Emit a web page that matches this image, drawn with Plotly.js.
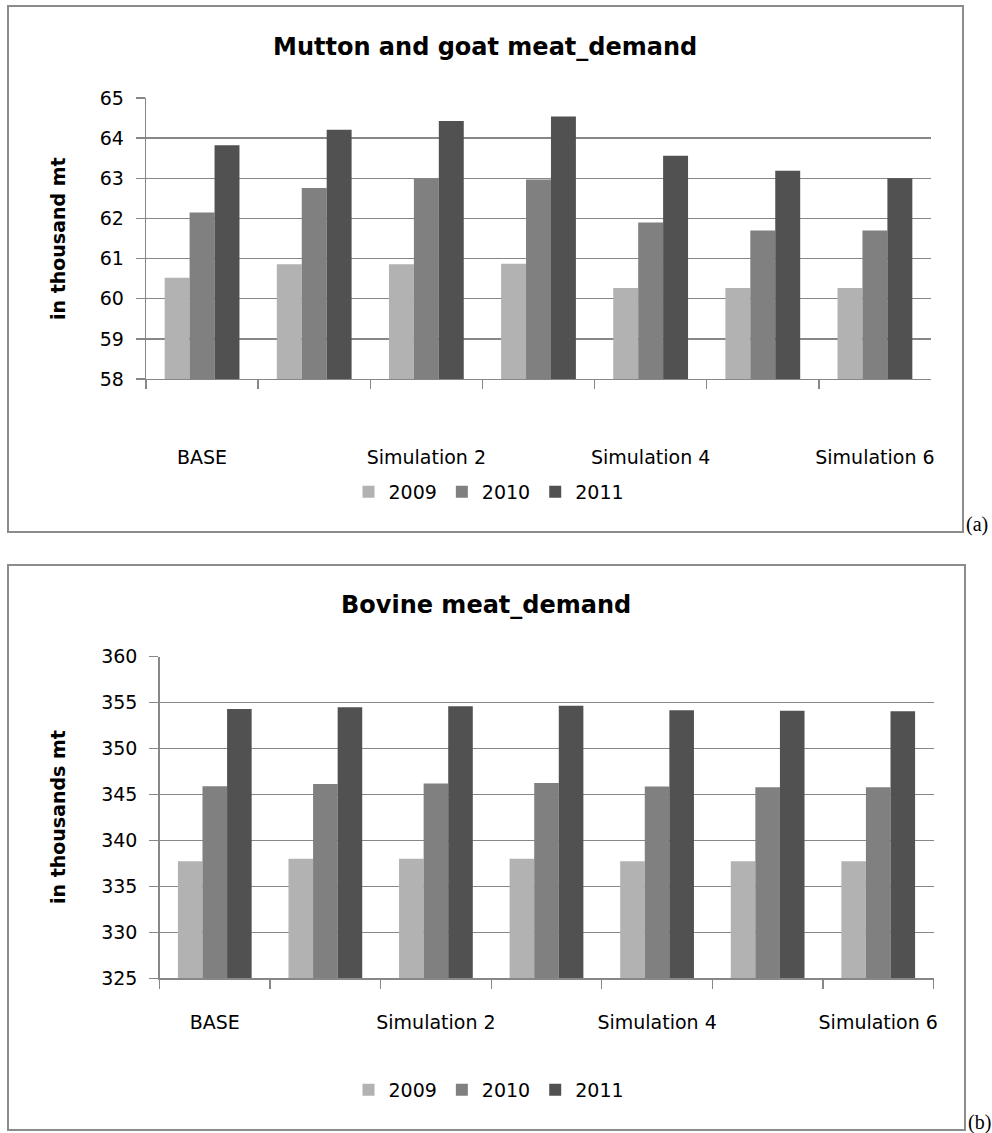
<!DOCTYPE html>
<html>
<head>
<meta charset="utf-8">
<script src="https://cdn.plot.ly/plotly-3.0.1.min.js"></script>
<style>html,body{margin:0;padding:0;background:#fff;}#chart{width:992px;height:1133px;}</style>
</head>
<body>
<div id="chart"></div>
<script>
const categories = ['BASE','Simulation 1','Simulation 2','Simulation 3','Simulation 4','Simulation 5','Simulation 6'];
const tickLabels = ['BASE','','Simulation 2','','Simulation 4','','Simulation 6'];
const years = ['2009','2010','2011'];
const mutton2009 = [60.52, 60.86, 60.86, 60.87, 60.27, 60.27, 60.27];
const mutton2010 = [62.15, 62.76, 62.98, 62.97, 61.90, 61.70, 61.70];
const mutton2011 = [63.82, 64.21, 64.43, 64.54, 63.56, 63.19, 63.00];
const bovine2009 = [337.75, 338.0, 338.0, 338.0, 337.75, 337.75, 337.75];
const bovine2010 = [345.9, 346.15, 346.2, 346.26, 345.87, 345.8, 345.8];
const bovine2011 = [354.3, 354.5, 354.6, 354.67, 354.16, 354.13, 354.05];
const titleA = 'Mutton and goat meat_demand';
const titleB = 'Bovine meat_demand';
const yTitleA = 'in thousand mt';
const yTitleB = 'in thousands mt';

const colors = ['#b2b2b2', '#808080', '#515151'];
const W = 992, H = 1133;
const px = x => x / W;
const py = y => 1 - y / H;
const FONT = 'DejaVu Sans, sans-serif';
const grid = '#878787';

const seriesA = [mutton2009, mutton2010, mutton2011];
const seriesB = [bovine2009, bovine2010, bovine2011];
const traces = [];
seriesA.forEach((v, i) => traces.push({type:'bar', x:categories, y:v, name:years[i], marker:{color:colors[i]}, xaxis:'x', yaxis:'y', legend:'legend', hoverinfo:'none'}));
seriesB.forEach((v, i) => traces.push({type:'bar', x:categories, y:v, name:years[i], marker:{color:colors[i]}, xaxis:'x2', yaxis:'y2', legend:'legend2', hoverinfo:'none'}));

function xax(dom, anchor, standoff) {
  return {domain:dom, anchor:anchor, type:'category', tickmode:'array', tickvals:categories, ticktext:tickLabels,
    tickson:'boundaries', ticks:'outside', ticklen:9, tickcolor:grid, tickwidth:1.3, tickangle:0,
    showline:true, linecolor:grid, linewidth:1.3, showgrid:false, zeroline:false,
    tickfont:{family:FONT, size:19, color:'#000'}, ticklabelstandoff:standoff, fixedrange:true};
}
function yax(dom, anchor, range, dtick) {
  return {domain:dom, anchor:anchor, range:range, dtick:dtick, tick0:range[0], ticks:'outside', ticklen:9, tickcolor:grid, tickwidth:1.3,
    showline:true, linecolor:grid, linewidth:1.3, showgrid:true, gridcolor:grid, gridwidth:1.3, zeroline:false,
    tickfont:{family:FONT, size:19, color:'#000'}, ticklabelstandoff:8, fixedrange:true};
}

const layout = {
  width:W, height:H, margin:{l:0,r:0,t:0,b:0}, paper_bgcolor:'#fff', plot_bgcolor:'#fff',
  barmode:'group', bargap:0.333, bargroupgap:0, showlegend:true,
  xaxis: xax([px(146), px(931)], 'y', 61),
  yaxis: yax([py(379), py(98)], 'x', [58, 65], 1),
  xaxis2: xax([px(159.5), px(933.5)], 'y2', 27),
  yaxis2: yax([py(978.3), py(656.7)], 'x2', [325, 360], 5),
  legend: {orientation:'h', x:px(489), xanchor:'center', y:py(492), yanchor:'middle', font:{family:FONT, size:19, color:'#000'}, itemwidth:30, traceorder:'normal'},
  legend2: {orientation:'h', x:px(489), xanchor:'center', y:py(1090), yanchor:'middle', font:{family:FONT, size:19, color:'#000'}, itemwidth:30, traceorder:'normal'},
  shapes: [
    {type:'rect', xref:'paper', yref:'paper', x0:px(8), x1:px(963), y0:py(532), y1:py(6), line:{color:'#8c8c8c', width:2}},
    {type:'rect', xref:'paper', yref:'paper', x0:px(8), x1:px(965), y0:py(1130), y1:py(565), line:{color:'#8c8c8c', width:2}}
  ],
  annotations: [
    {text:'<b>'+titleA+'</b>', xref:'paper', yref:'paper', x:px(485), y:py(47), xanchor:'center', yanchor:'middle', showarrow:false, font:{family:FONT, size:24, color:'#000'}},
    {text:'<b>'+titleB+'</b>', xref:'paper', yref:'paper', x:px(486), y:py(605), xanchor:'center', yanchor:'middle', showarrow:false, font:{family:FONT, size:24, color:'#000'}},
    {text:'<b>'+yTitleA+'</b>', xref:'paper', yref:'paper', x:px(58), y:py(239), xanchor:'center', yanchor:'middle', textangle:-90, showarrow:false, font:{family:FONT, size:19, color:'#000'}},
    {text:'<b>'+yTitleB+'</b>', xref:'paper', yref:'paper', x:px(58), y:py(817), xanchor:'center', yanchor:'middle', textangle:-90, showarrow:false, font:{family:FONT, size:19, color:'#000'}},
    {text:'(a)', xref:'paper', yref:'paper', x:px(964), y:py(524), xanchor:'left', yanchor:'middle', showarrow:false, font:{family:'Liberation Serif, serif', size:20, color:'#000'}},
    {text:'(b)', xref:'paper', yref:'paper', x:px(966), y:py(1122), xanchor:'left', yanchor:'middle', showarrow:false, font:{family:'Liberation Serif, serif', size:20, color:'#000'}}
  ]
};

Plotly.newPlot('chart', traces, layout, {displayModeBar:false, staticPlot:true});
</script>
</body>
</html>
